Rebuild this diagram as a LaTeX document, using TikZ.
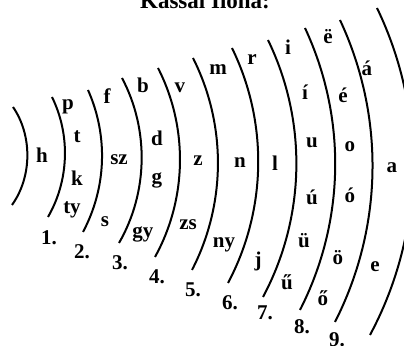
\documentclass[tikz,border=0pt]{standalone}
\usepackage{fontspec}
\setmainfont{Liberation Serif}

\begin{document}
\begin{tikzpicture}[
  x=0.5pt, y=-0.5pt,
  font=\fontsize{10.5}{12}\selectfont\bfseries,
  band/.style={line width=1pt, looseness=0.9},
  snd/.style={inner sep=0pt},
  num/.style={inner sep=0pt}
]
\useasboundingbox (0,0) rectangle (404,346);

% Title (cut by the top edge)
\node[anchor=base, font=\fontsize{11.5}{13}\selectfont\bfseries] (title) at (205,9) {Kassai Ilona:};

% Bands
\draw[band] (13,107)  to[bend left=35] (12,205);
\draw[band] (52,97)   to[bend left=28] (48,217);
\draw[band] (88,90)   to[bend left=26] (83,232);
\draw[band] (122,78)  to[bend left=29] (119,243);
\draw[band] (158,68)  to[bend left=28] (155,257);
\draw[band] (193,58)  to[bend left=27] (192,270);
\draw[band] (232,48)  to[bend left=27] (228,283);
\draw[band] (268,40)  to[bend left=27] (263,297);
\draw[band] (305,28)  to[bend left=26] (300,310);
\draw[band] (340,20)  to[bend left=26] (335,322);
\draw[band] (377,8)   to[bend left=27] (370,335);

% Sounds, zone by zone
\node[snd] (h)   at (42,155)  {h};

\node[snd] (p)   at (68,107)  {p};
\node[snd] (t)   at (77,137)  {t};
\node[snd] (k)   at (77,178)  {k};
\node[snd] (ty)  at (72,210)  {ty};

\node[snd] (f)   at (107,96)  {f};
\node[snd] (sz)  at (119,160) {sz};
\node[snd] (s)   at (105,222) {s};

\node[snd] (b)   at (143,85)  {b};
\node[snd] (d)   at (157,138) {d};
\node[snd] (g)   at (157,180) {g};
\node[snd] (gy)  at (143,234) {gy};

\node[snd] (v)   at (180,88)  {v};
\node[snd] (z)   at (198,161) {z};
\node[snd] (zs)  at (188,225) {zs};

\node[snd] (m)   at (218,70)  {m};
\node[snd] (n)   at (240,163) {n};
\node[snd] (ny)  at (224,245) {ny};

\node[snd] (r)   at (252,60)  {r};
\node[snd] (l)   at (275,163) {l};
\node[snd] (j)   at (258,261) {j};

\node[snd] (i)   at (288,47)  {i};
\node[snd] (ii)  at (305,92)  {í};
\node[snd] (u)   at (312,143) {u};
\node[snd] (uu)  at (312,197) {ú};
\node[snd] (ue)  at (304,241) {ü};
\node[snd] (uue) at (287,282) {ű};

\node[snd] (ee)  at (328,37)  {ë};
\node[snd] (ea)  at (343,95)  {é};
\node[snd] (o)   at (350,147) {o};
\node[snd] (oo)  at (350,195) {ó};
\node[snd] (oe)  at (338,258) {ö};
\node[snd] (ooe) at (323,298) {ő};

\node[snd] (aa)  at (367,68)  {á};
\node[snd] (a)   at (392,168) {a};
\node[snd] (e)   at (375,267) {e};

% Zone numbers
\node[num] (n1) at (49,238)  {1.};
\node[num] (n2) at (82,252)  {2.};
\node[num] (n3) at (120,263) {3.};
\node[num] (n4) at (157,277) {4.};
\node[num] (n5) at (193,290) {5.};
\node[num] (n6) at (230,303) {6.};
\node[num] (n7) at (265,313) {7.};
\node[num] (n8) at (302,327) {8.};
\node[num] (n9) at (337,340) {9.};

\end{tikzpicture}
\end{document}
